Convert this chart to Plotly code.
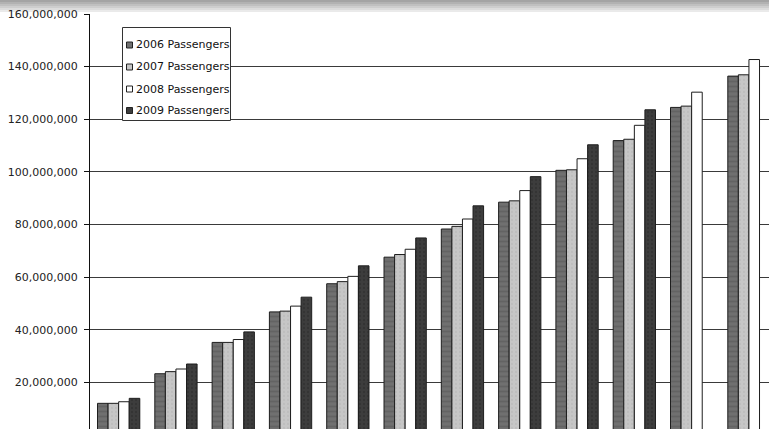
import plotly.graph_objects as go

# Passenger totals per group (four years), in passengers
groups = ["A", "B", "C", "D", "E", "F", "G", "H", "I", "J", "K", "L"]
pax_2006 = [12.05e6, 23.3e6, 35.2e6, 46.8e6, 57.5e6, 67.6e6, 78.3e6, 88.5e6, 100.6e6, 111.9e6, 124.5e6, 136.4e6]
pax_2007 = [12.05e6, 24.1e6, 35.2e6, 47.1e6, 58.3e6, 68.6e6, 79.3e6, 89.0e6, 100.8e6, 112.4e6, 125.0e6, 136.9e6]
pax_2008 = [12.66e6, 25.1e6, 36.3e6, 49.0e6, 60.3e6, 70.6e6, 82.1e6, 92.9e6, 105.0e6, 117.7e6, 130.3e6, 142.7e6]
pax_2009 = [13.95e6, 27.0e6, 39.2e6, 52.4e6, 64.3e6, 74.9e6, 87.1e6, 98.2e6, 110.3e6, 123.6e6, None, None]

y_ticks = [20e6, 40e6, 60e6, 80e6, 100e6, 120e6, 140e6, 160e6]
y_tick_text = ["20,000,000", "40,000,000", "60,000,000", "80,000,000",
               "100,000,000", "120,000,000", "140,000,000", "160,000,000"]

series = [
    ("2006 Passengers", pax_2006, "#707070", "#555555", "-", 5, 0.35),
    ("2007 Passengers", pax_2007, "#c6c6c6", "#b3b3b3", ".", 4, 0.25),
    ("2008 Passengers", pax_2008, "#ffffff", "#ffffff", "", 4, 0.1),
    ("2009 Passengers", pax_2009, "#3d3d3d", "#2a2a2a", ".", 4, 0.3),
]

# plot area geometry (pixels) used to place the legend box in paper units
PL, PW, PT, PH = 90, 679, 14, 415


def px_x(px):
    return (px - PL) / PW


def px_y(py):
    return (PT + PH - py) / PH


fig = go.Figure()
for name, vals, bg, fg, shape, size, sol in series:
    fig.add_trace(go.Bar(
        x=groups, y=vals, name=name, showlegend=False,
        marker=dict(
            color=bg,
            line=dict(color="#1e1e1e", width=1),
            pattern=dict(shape=shape, fgcolor=fg, bgcolor=bg, size=size, solidity=sol),
        ),
    ))

# legend box with square swatches
fig.add_shape(type="rect", xref="paper", yref="paper",
              x0=px_x(122.5), x1=px_x(230.5), y0=px_y(120.5), y1=px_y(27.5),
              fillcolor="white", line=dict(color="#333333", width=1), layer="above")
row_y = [45, 67, 89, 110.5]
for (name, vals, bg, fg, shape, size, sol), cy in zip(series, row_y):
    fig.add_shape(type="rect", xref="paper", yref="paper",
                  x0=px_x(126.5), x1=px_x(132.5), y0=px_y(cy + 3), y1=px_y(cy - 3),
                  fillcolor=bg, line=dict(color="#222222", width=1), layer="above")
    fig.add_annotation(xref="paper", yref="paper", x=px_x(133.5), y=px_y(cy),
                       xanchor="left", yanchor="middle", showarrow=False,
                       text=name, font=dict(family="DejaVu Sans", size=11, color="#111111"))

# gray gradient strip above the plot area
band_colors = ["#a4a4a4", "#b2b2b2", "#c0c0c0", "#cecece", "#dcdcdc", "#eaeaea"]
for i, c in enumerate(band_colors):
    fig.add_shape(type="rect", xref="paper", yref="paper",
                  x0=-0.2, x1=1.05,
                  y0=px_y(2 * i + 2), y1=px_y(2 * i),
                  fillcolor=c, line=dict(width=0), layer="below")

fig.update_layout(
    width=769, height=429,
    margin=dict(l=PL, r=0, t=PT, b=0),
    paper_bgcolor="white", plot_bgcolor="white",
    barmode="group", bargap=0.262, bargroupgap=0,
    font=dict(family="DejaVu Sans", size=11, color="#222222"),
    showlegend=False,
    xaxis=dict(
        range=[-0.5, 11.35], showticklabels=False, showgrid=False,
        zeroline=False, showline=False, ticks="",
    ),
    yaxis=dict(
        range=[2.3e6, 160e6], tickvals=y_ticks, ticktext=y_tick_text,
        showgrid=True, gridcolor="#3a3a3a", gridwidth=1,
        showline=True, linecolor="#111111", linewidth=1,
        ticks="outside", ticklen=5, tickcolor="#111111",
        zeroline=False, ticklabelstandoff=4,
        tickfont=dict(family="DejaVu Sans", size=11, color="#222222"),
    ),
)

fig.write_html("out.html")
